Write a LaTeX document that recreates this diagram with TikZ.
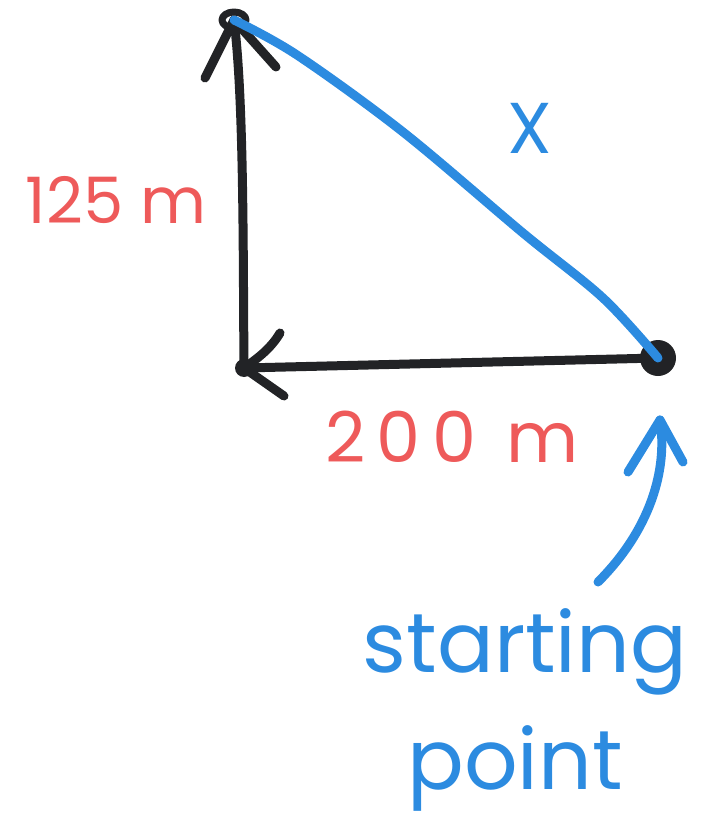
\documentclass[tikz,border=0pt]{standalone}
\usepackage{fontspec}
\setmainfont{Poppins}
\newfontfamily\handfont{Poppins}
\definecolor{inkblue}{HTML}{2C8BE0}
\definecolor{inkred}{HTML}{EE5A5A}
\definecolor{inkblack}{HTML}{222326}
\begin{document}
\begin{tikzpicture}[x=1pt,y=-1pt,
  pen/.style={line width=9pt,line cap=round,line join=round},
  blackpen/.style={pen,draw=inkblack},
  bluepen/.style={pen,draw=inkblue},
  redlabel/.style={text=inkred,font=\handfont\fontsize{64}{64}\selectfont,inner sep=0pt},
  bluelabel/.style={text=inkblue,font=\handfont\fontsize{84}{80}\selectfont,inner sep=0pt,align=center}]
\useasboundingbox (0,0) rectangle (703,821);
\coordinate (top) at (234,20);
\coordinate (corner) at (244,368);
\coordinate (start) at (658,358);
\coordinate (tail) at (598,582);
\coordinate (tip) at (660,420);
% vertical arrow
\draw[blackpen] (corner) .. controls (243,250) and (244,100) .. (top);
\draw[blackpen] (205,78) -- (top) -- (276,67);
\draw[blackpen,line width=7pt] (top) ellipse [x radius=12pt, y radius=8pt];
% horizontal arrow
\draw[blackpen] (start) -- (corner);
\draw[blackpen] (280,333) .. controls (270,350) and (255,360) .. (corner) -- (284,396);
\fill[inkblack] (corner) circle (9pt);
\fill[inkblack] (start) circle (18pt);
% hypotenuse
\draw[bluepen] plot[smooth,tension=0.55] coordinates {(top) (297,55) (403,132) (523,233) (603,298) (start)};
% labels
\node[text=inkblue,font=\handfont\fontsize{72}{72}\selectfont,inner sep=0pt] (xlabel) at (530,128) {X};
\node[redlabel] (side) at (116,200) {125 m};
\node[redlabel,font=\handfont\fontsize{70}{70}\selectfont] (base) at (452,437) {2\,0\,0\, m};
% pointer arrow
\draw[bluepen] (tail) .. controls (650,530) and (668,470) .. (tip);
\draw[bluepen] (628,472) -- (tip) -- (683,462);
\node[bluelabel] (starting) at (525,652) {starting};
\node[bluelabel] (point) at (515,768) {point};
\end{tikzpicture}
\end{document}
